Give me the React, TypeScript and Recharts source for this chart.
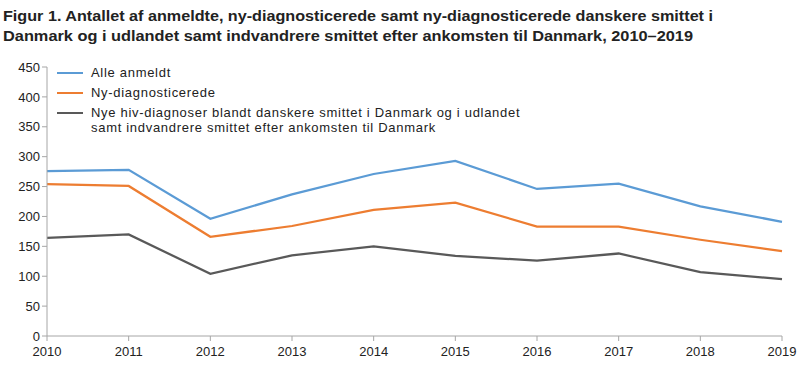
import { Line, LineChart, XAxis, YAxis } from "recharts";

const YEARS = ["2010", "2011", "2012", "2013", "2014", "2015", "2016", "2017", "2018", "2019"];
const ALLE_ANMELDT = [276, 278, 196, 237, 271, 293, 246, 255, 217, 191];
const NY_DIAGNOSTICEREDE = [254, 251, 166, 184, 211, 223, 183, 183, 161, 142];
const NYE_HIV_DANSKERE = [164, 170, 104, 135, 150, 134, 126, 138, 107, 95];
const Y_TICKS = [0, 50, 100, 150, 200, 250, 300, 350, 400, 450];

const TITLE_LINES = [
  "Figur 1. Antallet af anmeldte, ny-diagnosticerede samt ny-diagnosticerede danskere smittet  i",
  "Danmark og i udlandet samt indvandrere smittet efter  ankomsten til Danmark, 2010–2019",
];

const SERIES = [
  { key: "alle", color: "#5b9bd5", label: ["Alle anmeldt"] },
  { key: "ny", color: "#ed7d31", label: ["Ny-diagnosticerede"] },
  {
    key: "nye",
    color: "#595959",
    label: [
      "Nye hiv-diagnoser blandt danskere smittet i Danmark og i udlandet",
      "samt indvandrere smittet efter ankomsten til Danmark",
    ],
  },
];

const FONT = "'Liberation Sans', Arial, sans-serif";

const data = YEARS.map((year, i) => ({
  year,
  alle: ALLE_ANMELDT[i],
  ny: NY_DIAGNOSTICEREDE[i],
  nye: NYE_HIV_DANSKERE[i],
}));

function LegendBox() {
  return (
    <div
      style={{
        position: "absolute",
        left: 57,
        top: 65,
        fontFamily: FONT,
        fontSize: 13,
        letterSpacing: 0.7,
        color: "#222",
        lineHeight: "15px",
      }}
    >
      {SERIES.map((s) => (
        <div key={s.key} style={{ display: "flex", alignItems: "flex-start", marginBottom: 5 }}>
          <span
            style={{
              display: "inline-block",
              width: 26,
              height: 2,
              background: s.color,
              marginTop: 7,
              marginRight: 8,
            }}
          />
          <div>
            {s.label.map((l) => (
              <div key={l} style={{ whiteSpace: "nowrap" }}>
                {l}
              </div>
            ))}
          </div>
        </div>
      ))}
    </div>
  );
}

export default function App() {
  return (
    <div style={{ position: "absolute", left: 0, top: 0, width: 800, height: 368, background: "#fff" }}>
      <LineChart
        width={800}
        height={368}
        data={data}
        margin={{ top: 67, right: 18, bottom: 2, left: 0 }}
        style={{ position: "absolute", left: 0, top: 0 }}
      >
        <XAxis
          dataKey="year"
          height={30}
          interval={0}
          stroke="#a6a6a6"
          tickSize={5}
          tick={{ fill: "#222", fontSize: 13, fontFamily: FONT, dy: 4 }}
        />
        <YAxis
          width={47}
          domain={[0, 450]}
          ticks={Y_TICKS}
          interval={0}
          stroke="#a6a6a6"
          tickSize={5}
          tick={{ fill: "#222", fontSize: 13, fontFamily: FONT }}
        />
        {SERIES.map((s) => (
          <Line
            key={s.key}
            type="linear"
            dataKey={s.key}
            stroke={s.color}
            strokeWidth={2.25}
            dot={false}
            activeDot={false}
            isAnimationActive={false}
          />
        ))}
      </LineChart>
      <svg width={800} height={48} style={{ position: "absolute", left: 0, top: 0 }}>
        {TITLE_LINES.map((line, i) => (
          <text
            key={i}
            x={3}
            y={21 + i * 20}
            fontFamily={FONT}
            fontWeight="bold"
            fontSize={15}
            fill="#222"
            textLength={i === 0 ? 710 : 690}
            lengthAdjust="spacingAndGlyphs"
          >
            {line}
          </text>
        ))}
      </svg>
      <LegendBox />
    </div>
  );
}
